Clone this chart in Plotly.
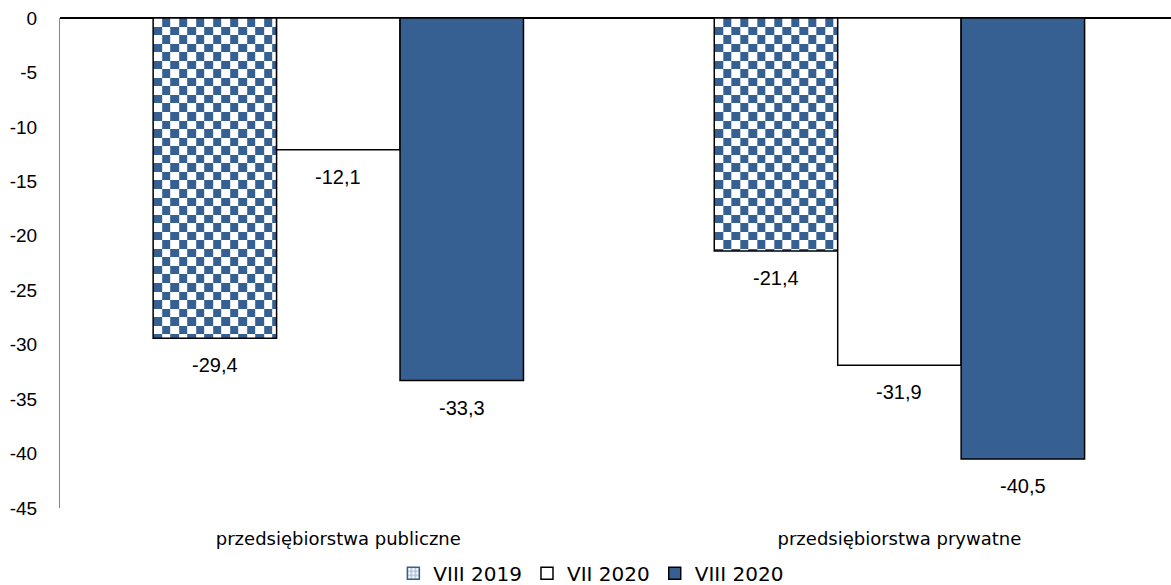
import numpy as np
import plotly.graph_objects as go

# Categories and series values (percent)
categories = ["przedsiębiorstwa publiczne", "przedsiębiorstwa prywatne"]
series_names = ["VIII 2019", "VII 2020", "VIII 2020"]
viii_2019 = [-29.4, -21.4]
vii_2020 = [-12.1, -31.9]
viii_2020 = [-33.3, -40.5]
y_ticks = [0, -5, -10, -15, -20, -25, -30, -35, -40, -45]

BLUE = "#366092"
BAR_W = 0.22          # bar width in category units
CELL_X = 0.0152       # checker cell width (category units)
CELL_Y = 0.785        # checker cell height (value units)

series_values = [viii_2019, vii_2020, viii_2020]
offsets = [-BAR_W, 0.0, BAR_W]
cat_pos = np.arange(len(categories), dtype=float)


def fmt(v):
    return f"{v:.1f}".replace(".", ",")


def checker_heatmap(xc, value):
    """Checkerboard fill for a bar centred at xc running from 0 down to value."""
    left, right = xc - BAR_W / 2, xc + BAR_W / 2
    xe = list(np.arange(left, right, CELL_X)) + [right]
    ye_top = list(np.arange(0, value, -CELL_Y)) + [value]   # from 0 downward
    n_rows, n_cols = len(ye_top) - 1, len(xe) - 1
    z = [[(r + c) % 2 for c in range(n_cols)] for r in range(n_rows)]
    # heatmap wants ascending y edges
    ye = ye_top[::-1]
    z = z[::-1]
    return go.Heatmap(
        x=xe, y=ye, z=z, zmin=0, zmax=1,
        colorscale=[[0, "#ffffff"], [1, BLUE]],
        showscale=False, hoverinfo="skip", zsmooth=False,
    )


fig = go.Figure()

# checkerboard fills for the first series
for i, v in enumerate(viii_2019):
    fig.add_trace(checker_heatmap(cat_pos[i] + offsets[0], v))

fills = ["rgba(0,0,0,0)", "#ffffff", BLUE]
for k, (name, vals) in enumerate(zip(series_names, series_values)):
    fig.add_trace(go.Bar(
        x=cat_pos + offsets[k], y=vals, width=BAR_W, name=name,
        marker=dict(color=fills[k], line=dict(color="#000000", width=1.5)),
        showlegend=(k != 0), legendrank=k + 1,
    ))

# legend swatch for the checkered series
fig.add_trace(go.Bar(
    x=[None], y=[None], name=series_names[0], legendrank=1,
    marker=dict(color="#ffffff", line=dict(color=BLUE, width=1.5),
                pattern=dict(shape="+", fgcolor=BLUE, size=5, solidity=0.5)),
))

# value labels below each bar
for k, vals in enumerate(series_values):
    for i, v in enumerate(vals):
        fig.add_annotation(
            x=cat_pos[i] + offsets[k], y=v, text=fmt(v), showarrow=False,
            yanchor="middle", yshift=-27,
            font=dict(family="Liberation Sans", size=20, color="#000000"),
        )

fig.update_layout(
    width=1171, height=585,
    margin=dict(l=60, r=0, t=18, b=77),
    paper_bgcolor="#ffffff", plot_bgcolor="#ffffff",
    barmode="overlay",
    showlegend=True,
    legend=dict(
        orientation="h", xref="container", yref="container",
        x=0.505, xanchor="center", y=0.02, yanchor="middle",
        font=dict(family="DejaVu Sans", size=20, color="#000000"),
        traceorder="normal",
    ),
)
fig.update_xaxes(
    range=[-0.496, 1.484], tickvals=list(cat_pos), ticktext=categories,
    showgrid=False, zeroline=False, showline=False, ticks="",
    tickfont=dict(family="DejaVu Sans", size=18, color="#000000"),
    ticklabelstandoff=18,
)
fig.update_yaxes(
    range=[-45, 0], tickvals=y_ticks, ticktext=[str(t) for t in y_ticks],
    showgrid=False, showline=True, linecolor="#868686", linewidth=1,
    zeroline=True, zerolinecolor="#000000", zerolinewidth=1.5,
    ticks="", ticklabelstandoff=18,
    tickfont=dict(family="Liberation Sans", size=19, color="#000000"),
)

fig.write_html("out.html")
